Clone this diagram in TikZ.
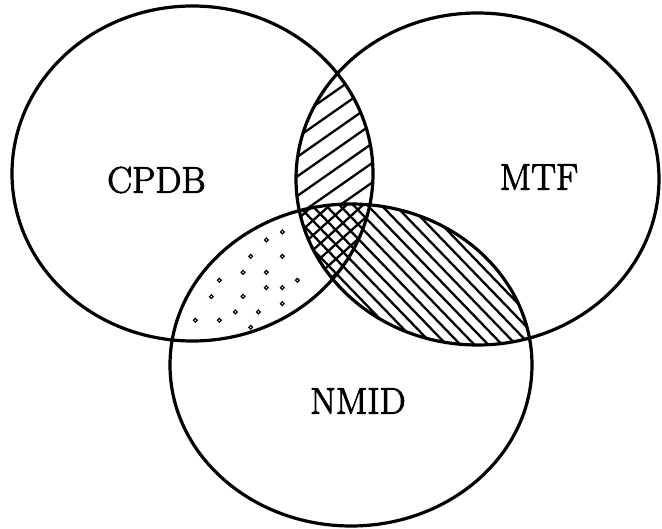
\documentclass[tikz,border=0pt]{standalone}
\usepackage{fontspec}
\newfontfamily\setnamefont[UprightFeatures={FakeBold=2.5}]{Latin Modern Roman}
\begin{document}
\begin{tikzpicture}[x=1pt,y=1pt,
  outline/.style={line width=3.2pt},
  hatch/.style={line width=2.3pt},
  dotmark/.style={line width=1.2pt},
  setlabel/.style={font=\setnamefont\fontsize{37}{42}\selectfont, inner sep=0pt}]
\useasboundingbox (0,0) rectangle (662,-529);

% centres of the three sets
\coordinate (cpdbc) at (192.5,-173.5);
\coordinate (mtfc)  at (477.5,-179);
\coordinate (nmidc) at (351,-365);

% CPDB and MTF only: single hatching
\begin{scope}[even odd rule]
  \clip (cpdbc) ellipse [x radius=180.5, y radius=167.5];
  \clip (mtfc) ellipse [x radius=181.5, y radius=166];
  \clip (-10,10) rectangle (672,-539)
        (nmidc) ellipse [x radius=181, y radius=161];
  \foreach \k in {-12,...,12}
    \draw[hatch, rotate around={35:(335,-150)}]
      (135,-150+16*\k) -- (535,-150+16*\k);
\end{scope}

% MTF and NMID (the triple overlap included): back hatching
\begin{scope}
  \clip (mtfc) ellipse [x radius=181.5, y radius=166];
  \clip (nmidc) ellipse [x radius=181, y radius=161];
  \foreach \k in {-22,...,22}
    \draw[hatch, rotate around={-46:(430,-270)}]
      (230,-270+10*\k) -- (630,-270+10*\k);
\end{scope}

% triple overlap: second direction, giving the cross hatching
\begin{scope}
  \clip (cpdbc) ellipse [x radius=180.5, y radius=167.5];
  \clip (mtfc) ellipse [x radius=181.5, y radius=166];
  \clip (nmidc) ellipse [x radius=181, y radius=161];
  \foreach \k in {-8,...,8}
    \draw[hatch, rotate around={42:(335,-245)}]
      (235,-245+11*\k) -- (435,-245+11*\k);
\end{scope}

% CPDB and NMID only: small open dots
\foreach \p in {(282.3,-232),(266.3,-240),(250.7,-256.3),(282.3,-256.3),
                (243,-272.3),(266.3,-272.3),(219.3,-280.3),(297.3,-280.3),
                (266.3,-287.7),(282.3,-287.7),(211.3,-296.7),(243,-296.3),
                (282.3,-303.7),(235.3,-312),(258.3,-312),(195.3,-320.3),
                (219.3,-320.3),(250.7,-327.3)}
  \draw[dotmark] \p circle [radius=1.9];

% the three sets
\draw[outline] (cpdbc) ellipse [x radius=180.5, y radius=167.5];
\draw[outline] (mtfc)  ellipse [x radius=181.5, y radius=166];
\draw[outline] (nmidc) ellipse [x radius=181, y radius=161];

\node[setlabel] (cpdb) at (156.5,-180) {CPDB};
\node[setlabel] (mtf)  at (539,-177) {MTF};
\node[setlabel] (nmid) at (358,-401) {NMID};
\end{tikzpicture}
\end{document}
